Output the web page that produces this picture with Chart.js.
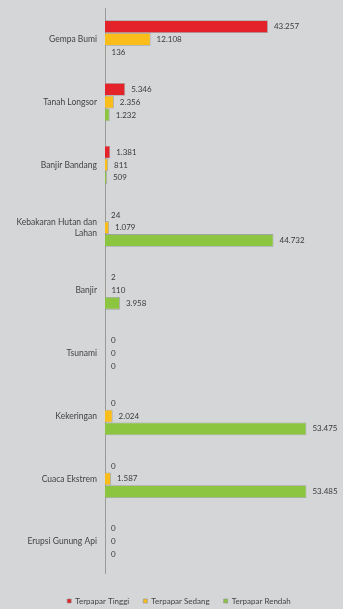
<!DOCTYPE html>
<html>
<head>
<meta charset="utf-8">
<script src="https://cdn.jsdelivr.net/npm/chart.js@4.4.1/dist/chart.umd.min.js"></script>
<style>
html,body{margin:0;padding:0;background:#d4d6d8;}
#wrap{width:343px;height:609px;position:relative;}
</style>
</head>
<body>
<div id="wrap"><canvas id="c" width="343" height="609"></canvas></div>
<script>
const categories = [
  'Gempa Bumi',
  'Tanah Longsor',
  'Banjir Bandang',
  ['Kebakaran Hutan dan', 'Lahan'],
  'Banjir',
  'Tsunami',
  'Kekeringan',
  'Cuaca Ekstrem',
  'Erupsi Gunung Api'
];
const seriesNames = ['Terpapar Tinggi', 'Terpapar Sedang', 'Terpapar Rendah'];
const terpaparTinggi = [43257, 5346, 1381, 24, 2, 0, 0, 0, 0];
const terpaparSedang = [12108, 2356, 811, 1079, 110, 0, 2024, 1587, 0];
const terpaparRendah = [136, 1232, 509, 44732, 3958, 0, 53475, 53485, 0];
const seriesColors = ['#e3222a', '#fbbd19', '#8cc641'];

function fmt(v){ return String(v).replace(/\B(?=(\d{3})+(?!\d))/g, '.'); }

const valueLabels = {
  id: 'valueLabels',
  afterDatasetsDraw(chart){
    const ctx = chart.ctx;
    ctx.save();
    ctx.font = '8px Lato';
    ctx.fillStyle = '#3a3a3a';
    ctx.textAlign = 'left';
    ctx.textBaseline = 'middle';
    chart.data.datasets.forEach((ds, di) => {
      const meta = chart.getDatasetMeta(di);
      meta.data.forEach((bar, i) => {
        ctx.fillText(fmt(ds.data[i]), bar.x + 6, bar.y);
      });
    });
    ctx.restore();
  }
};

const bg = {
  id: 'bg',
  beforeDraw(chart){
    const ctx = chart.ctx;
    ctx.save();
    ctx.fillStyle = '#d4d6d8';
    ctx.fillRect(0, 0, chart.width, chart.height);
    ctx.restore();
  }
};

const legendShift = {
  id: 'legendShift',
  afterInit(chart){
    const lg = chart.legend;
    if (lg && !lg._shifted) {
      const orig = lg.fit;
      lg.fit = function(){ orig.call(this); this.height -= 6; };
      lg._shifted = true;
    }
  },
  afterLayout(chart){
    const lg = chart.legend;
    if (lg) { lg.left += 13.5; lg.right += 13.5; }
  }
};

const dataArrays = [terpaparTinggi, terpaparSedang, terpaparRendah];

new Chart(document.getElementById('c'), {
  type: 'bar',
  data: {
    labels: categories,
    datasets: dataArrays.map((d, i) => ({
      label: seriesNames[i],
      data: d,
      backgroundColor: seriesColors[i],
      borderColor: 'rgba(140,140,140,0.7)',
      borderWidth: c => (c.raw ? 0.8 : 0),
      categoryPercentage: 0.61,
      barPercentage: 1
    }))
  },
  options: {
    indexAxis: 'y',
    responsive: false,
    animation: false,
    devicePixelRatio: 1,
    layout: { padding: { left: 0, right: 12, top: 8, bottom: 0 } },
    scales: {
      x: {
        min: 0,
        max: 60000,
        display: true,
        grid: { display: false, drawTicks: false },
        border: { display: false },
        ticks: { display: false },
        afterFit: s => { s.height = 10; }
      },
      y: {
        grid: { display: false, drawTicks: false },
        border: { display: true, color: '#9a9a9a', width: 1 },
        ticks: {
          color: '#444',
          font: { family: 'Lato', size: 8.5, lineHeight: 1.3 },
          padding: 8
        },
        afterFit: s => { s.width = 105; s.paddingTop = 0; s.paddingBottom = 0; }
      }
    },
    plugins: {
      legend: {
        position: 'bottom',
        labels: {
          boxWidth: 4,
          boxHeight: 4,
          padding: 14,
          color: '#444',
          font: { family: 'Lato', size: 8 }
        }
      },
      tooltip: { enabled: false }
    }
  },
  plugins: [bg, legendShift, valueLabels]
});
</script>
</body>
</html>
